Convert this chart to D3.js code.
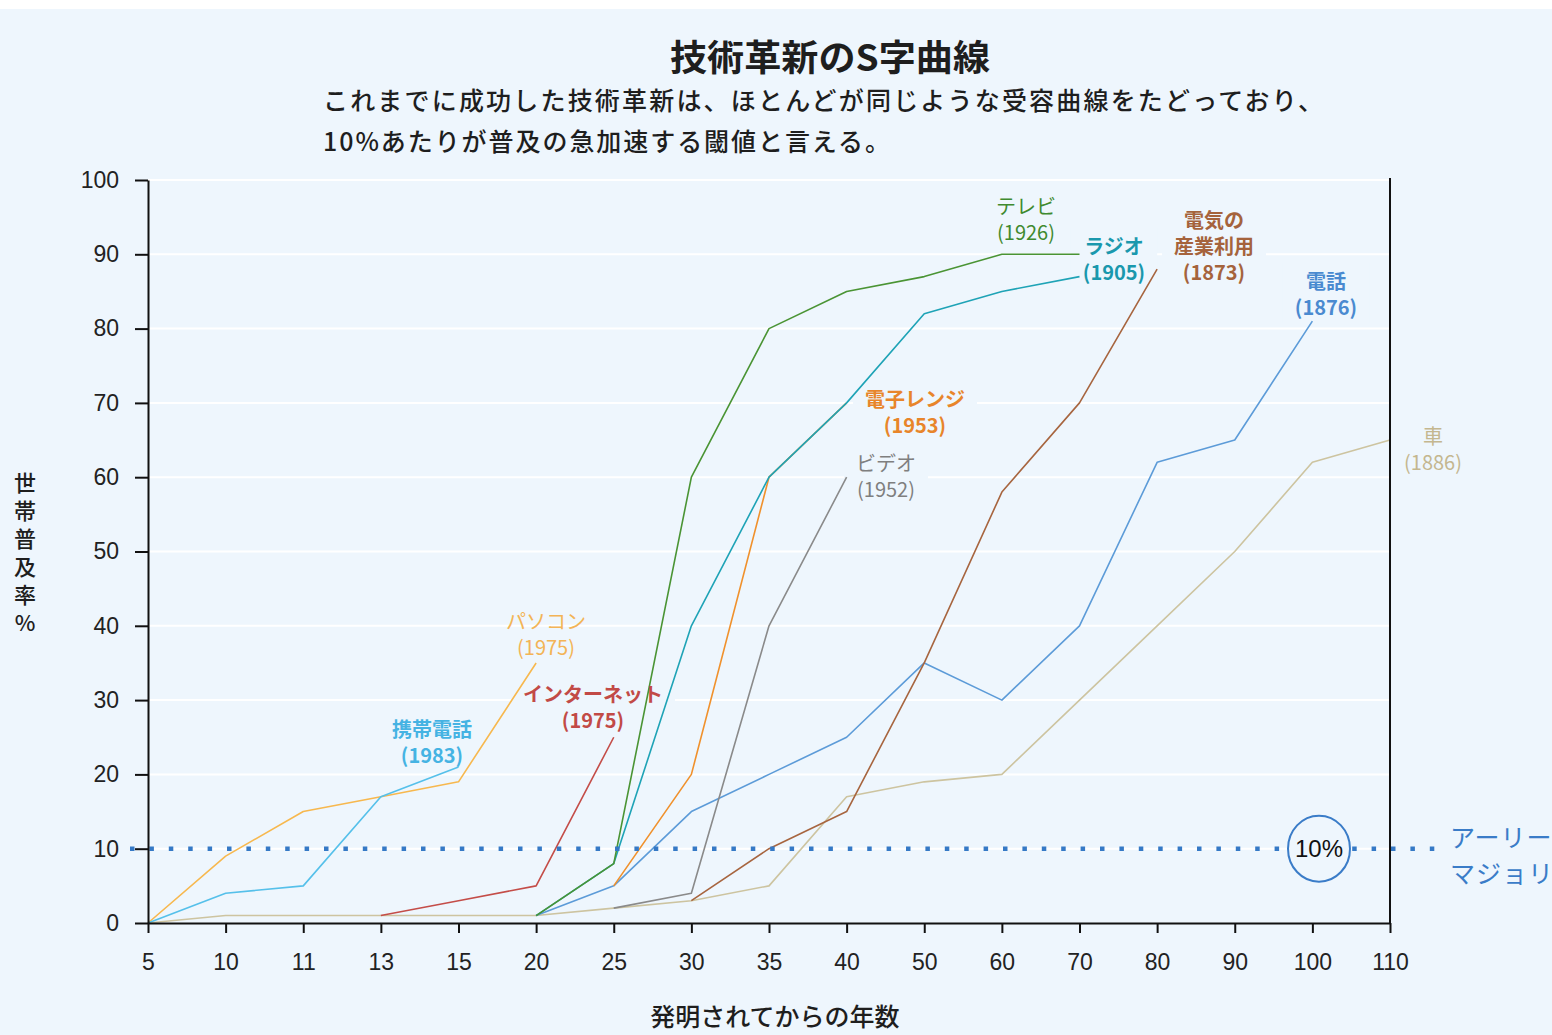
<!DOCTYPE html>
<html>
<head>
<meta charset="utf-8">
<script src="https://cdn.jsdelivr.net/npm/d3@7"></script>
<style>
  html, body { margin: 0; padding: 0; background: #ffffff; }
  svg { display: block; }
</style>
</head>
<body>
<svg id="chart" width="1552" height="1035"></svg>
<script>
// Years since invention (categorical, evenly spaced on the axis)
const years = ["5", "10", "11", "13", "15", "20", "25", "30", "35", "40", "50", "60", "70", "80", "90", "100", "110"];
const yTicks = [0, 10, 20, 30, 40, 50, 60, 70, 80, 90, 100];

// Household adoption rate (%) at each year step; null where the series has no value
const mobile     = [0, 4, 5, 17, 21];
const pc         = [0, 9, 15, 17, 19, 35];
const internet   = [null, null, null, 1, 3, 5, 25];
const tv         = [null, null, null, null, null, 1, 8, 60, 80, 85, 87, 90, 90];
const radio      = [null, null, null, null, null, 1, 8, 40, 60, 70, 82, 85, 87];
const microwave  = [null, null, null, null, null, null, 5, 20, 60, 70];
const video      = [null, null, null, null, null, null, 2, 4, 40, 60];
const electric   = [null, null, null, null, null, null, null, 3, 10, 15, 35, 58, 70, 88];
const telephone  = [null, null, null, null, null, 1, 5, 15, 20, 25, 35, 30, 40, 62, 65, 81];
const car        = [0, 1, 1, 1, 1, 1, 2, 3, 5, 17, 19, 20, 30, 40, 50, 62, 65];

const threshold = 10;

const seriesNames  = ["車", "電話", "電気の産業利用", "ビデオ", "電子レンジ", "ラジオ", "テレビ", "インターネット", "パソコン", "携帯電話"];
const seriesLabels = [["車", "(1886)"], ["電話", "(1876)"], ["電気の", "産業利用", "(1873)"], ["ビデオ", "(1952)"],
                      ["電子レンジ", "(1953)"], ["ラジオ", "(1905)"], ["テレビ", "(1926)"], ["インターネット", "(1975)"],
                      ["パソコン", "(1975)"], ["携帯電話", "(1983)"]];
const seriesValues = [car, telephone, electric, video, microwave, radio, tv, internet, pc, mobile];

// Presentation: colours and label placement (pixel centre of the first label line)
const style = {
  "車":           { line: "#cdc4a0", text: "#c4b78f", weight: 400, lx: 1433, ly: 435, box: false },
  "電話":         { line: "#5c9bd8", text: "#4a8ad0", weight: 700, lx: 1326, ly: 280, box: true },
  "電気の産業利用": { line: "#a7653f", text: "#a5633c", weight: 700, lx: 1214, ly: 219, box: true },
  "ビデオ":       { line: "#8a8a8a", text: "#7f7f7f", weight: 400, lx: 886,  ly: 462, box: true },
  "電子レンジ":   { line: "#f0912c", text: "#e8852a", weight: 700, lx: 915,  ly: 398, box: true },
  "ラジオ":       { line: "#1ea3b6", text: "#1a98ad", weight: 700, lx: 1114, ly: 245, box: true },
  "テレビ":       { line: "#4a9434", text: "#3f8a2f", weight: 400, lx: 1026, ly: 205, box: false },
  "インターネット": { line: "#c44d48", text: "#c24a46", weight: 700, lx: 593,  ly: 693, box: true },
  "パソコン":     { line: "#f7b84e", text: "#f3b456", weight: 400, lx: 546,  ly: 620, box: false },
  "携帯電話":     { line: "#55c0ea", text: "#45b3e3", weight: 700, lx: 432,  ly: 728, box: false }
};

const W = 1552, H = 1035;
const bg = "#eef6fd";
const jp = "'Noto Sans CJK JP', 'Noto Sans', sans-serif";
const num = "'Liberation Sans', Arial, sans-serif";

const svg = d3.select("#chart");

// panel
svg.append("rect").attr("x", 0).attr("y", 9).attr("width", W).attr("height", H - 9).attr("fill", bg);

const x = d3.scalePoint().domain(years).range([148, 1390]);
const y = d3.scaleLinear().domain([0, 100]).range([923, 180]);

// horizontal grid
svg.append("g").selectAll("line")
  .data(yTicks.filter(d => d > 0))
  .join("line")
  .attr("x1", x.range()[0]).attr("x2", x.range()[1])
  .attr("y1", d => y(d)).attr("y2", d => y(d))
  .attr("stroke", "#ffffff").attr("stroke-width", 2);

// label backdrops sit above the grid but under the lines
const boxLayer = svg.append("g");

// series lines
const line = d3.line()
  .defined(d => d.v !== null)
  .x(d => x(d.k))
  .y(d => y(d.v));

const series = seriesNames.map((name, i) => ({
  name,
  label: seriesLabels[i],
  points: seriesValues[i].map((v, j) => ({ k: years[j], v }))
}));

svg.append("g").selectAll("path")
  .data(series)
  .join("path")
  .attr("d", d => line(d.points))
  .attr("fill", "none")
  .attr("stroke", d => style[d.name].line)
  .attr("stroke-width", 1.6)
  .attr("stroke-linejoin", "round");

// 10% threshold, dotted across the plot and beyond the right axis
svg.append("line")
  .attr("x1", 130).attr("x2", 1436)
  .attr("y1", y(threshold)).attr("y2", y(threshold))
  .attr("stroke", "#3579c6").attr("stroke-width", 4.5)
  .attr("stroke-dasharray", "4.5 14.9");

// axes
const yAxis = svg.append("g")
  .attr("transform", `translate(${x.range()[0]},0)`)
  .call(d3.axisLeft(y).tickValues(yTicks).tickSize(13).tickSizeOuter(0).tickPadding(16));
const xAxis = svg.append("g")
  .attr("transform", `translate(0,${y(0)})`)
  .call(d3.axisBottom(x).tickSize(10).tickSizeOuter(0).tickPadding(21));

[yAxis, xAxis].forEach(g => {
  g.selectAll(".domain").attr("stroke", "#111").attr("stroke-width", 2);
  g.selectAll(".tick line").attr("stroke", "#111").attr("stroke-width", 2);
  g.selectAll(".tick text").attr("fill", "#222").style("font-family", num).style("font-size", "23px");
});

// right frame line
svg.append("line")
  .attr("x1", x.range()[1]).attr("x2", x.range()[1])
  .attr("y1", y(100) - 2).attr("y2", y(0))
  .attr("stroke", "#111").attr("stroke-width", 2);

// series labels
const labelG = svg.append("g");
series.forEach(s => {
  const st = style[s.name];
  const g = labelG.append("g");
  g.selectAll("text")
    .data(s.label)
    .join("text")
    .attr("x", st.lx)
    .attr("y", (d, i) => st.ly + i * 26)
    .attr("text-anchor", "middle")
    .attr("dominant-baseline", "central")
    .attr("fill", st.text)
    .style("font-family", jp)
    .style("font-size", "20px")
    .style("font-weight", st.weight)
    .text(d => d);
  if (st.box) {
    const bb = g.node().getBBox();
    boxLayer.append("rect")
      .attr("x", bb.x - 12).attr("y", bb.y - 3)
      .attr("width", bb.width + 24).attr("height", bb.height + 6)
      .attr("fill", bg);
  }
});

// 10% callout
svg.append("ellipse")
  .attr("cx", 1319).attr("cy", y(threshold))
  .attr("rx", 31).attr("ry", 33)
  .attr("fill", bg).attr("stroke", "#3a7cc8").attr("stroke-width", 2);
svg.append("text")
  .attr("x", 1319).attr("y", y(threshold))
  .attr("text-anchor", "middle").attr("dominant-baseline", "central")
  .attr("fill", "#111")
  .style("font-family", num).style("font-size", "24px")
  .text(threshold + "%");

svg.append("g").selectAll("text")
  .data(["アーリー", "マジョリティ"])
  .join("text")
  .attr("x", 1450)
  .attr("y", (d, i) => 836 + i * 36)
  .attr("dominant-baseline", "central")
  .attr("fill", "#3a7cc8")
  .style("font-family", jp).style("font-size", "25px")
  .style("letter-spacing", "1px")
  .text(d => d);

// titles
svg.append("text")
  .attr("x", 830).attr("y", 55)
  .attr("text-anchor", "middle").attr("dominant-baseline", "central")
  .attr("textLength", 320).attr("lengthAdjust", "spacingAndGlyphs")
  .attr("fill", "#1e1e1e")
  .style("font-family", jp).style("font-size", "36px").style("font-weight", 700)
  .text("技術革新のS字曲線");

const sub = [
  { t: "これまでに成功した技術革新は、ほとんどが同じような受容曲線をたどっており、", len: 1000, yy: 99 },
  { t: "10%あたりが普及の急加速する閾値と言える。", len: 567, yy: 140 }
];
svg.append("g").selectAll("text")
  .data(sub)
  .join("text")
  .attr("x", 323).attr("y", d => d.yy)
  .attr("dominant-baseline", "central")
  .attr("textLength", d => d.len)
  .attr("lengthAdjust", "spacing")
  .attr("fill", "#1e1e1e")
  .style("font-family", jp).style("font-size", "25px").style("font-weight", 500)
  .text(d => d.t);

// axis titles
svg.append("text")
  .attr("x", 775).attr("y", 1015)
  .attr("text-anchor", "middle").attr("dominant-baseline", "central")
  .attr("fill", "#1e1e1e")
  .style("font-family", jp).style("font-size", "25px").style("font-weight", 500)
  .text("発明されてからの年数");

svg.append("text")
  .attr("x", 25).attr("y", 472)
  .attr("fill", "#1e1e1e")
  .style("writing-mode", "vertical-rl")
  .style("text-orientation", "upright")
  .style("font-family", jp).style("font-size", "22px").style("font-weight", 500)
  .style("letter-spacing", "6px")
  .text("世帯普及率%");
</script>
</body>
</html>
